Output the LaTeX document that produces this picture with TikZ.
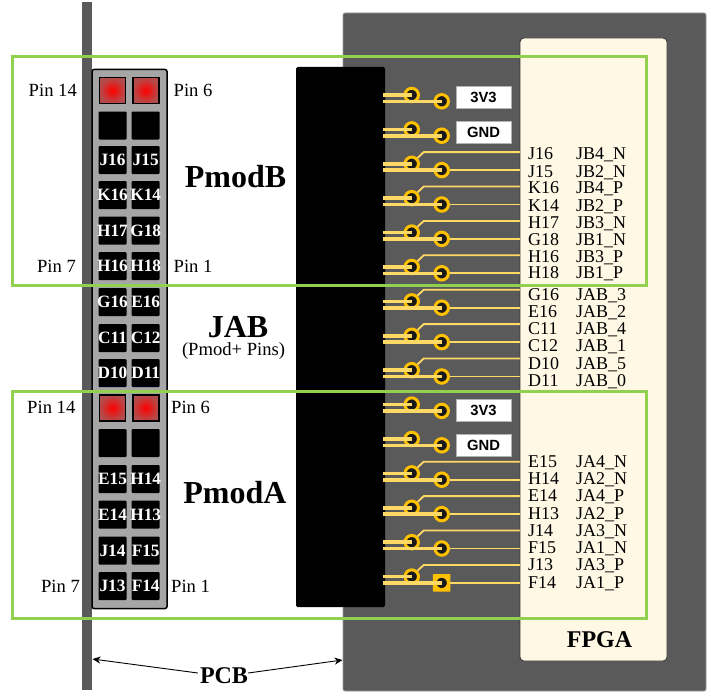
\documentclass[tikz,border=0pt]{standalone}
\usepackage{fontspec}
\usetikzlibrary{calc,arrows.meta}
\setmainfont{Liberation Serif}
\newfontfamily\padfont{Liberation Sans}
\definecolor{pcbgray}{HTML}{5A5A5A}
\definecolor{hdrgray}{HTML}{A6A6A6}
\definecolor{bandgreen}{HTML}{92D050}
\definecolor{fpgacream}{HTML}{FFF8E5}
\definecolor{viaorange}{HTML}{FFC000}
\definecolor{traceyellow}{HTML}{FFD966}
\tikzset{
	pinpad/.style={fill=black,rounded corners=1pt,minimum size=28pt,inner sep=0pt,text=white,font=\fontsize{17.3}{17.3}\selectfont\bfseries},
	redpad/.style={draw=black,line width=1.6pt,minimum size=26pt,inner sep=0pt,inner color=red,outer color=red!40!gray},
	via/.style={circle,draw=viaorange,fill=black!90,line width=3pt,minimum size=13.5pt,inner sep=0pt},
	viasq/.style={rectangle,rounded corners=0.5pt,fill=viaorange,minimum size=17.5pt,inner sep=0pt},
	thicktrace/.style={traceyellow,line width=3.6pt},
	thintrace/.style={traceyellow,line width=1.8pt},
	pinlabel/.style={inner sep=0pt,font=\fontsize{18.6}{18.6}\selectfont},
	fpgalabel/.style={inner sep=0pt,anchor=base west,font=\fontsize{18}{18}\selectfont},
	powerbox/.style={fill=white,draw=black!30,line width=0.5pt,minimum width=55pt,minimum height=22pt,inner sep=0pt,font=\fontsize{14.8}{15}\padfont\bfseries},
	bigtitle/.style={inner sep=0pt,font=\fontsize{32}{32}\selectfont\bfseries},
	greenband/.style={draw=bandgreen,line width=3pt}
}
\begin{document}
\begin{tikzpicture}[x=1pt,y=-1pt]
	\useasboundingbox (0,0) rectangle (707,693);

	%boards
	\fill[pcbgray] (82,2) rectangle (92,690); %left PCB edge
	\draw[black!40,fill=pcbgray,rounded corners=2pt,line width=0.6pt] (343,13) rectangle (706,691); %right PCB
	\draw[black!80,fill=fpgacream,rounded corners=4pt,line width=0.8pt] (520,38) rectangle (667,661); %FPGA die
	\draw[black,fill=hdrgray,rounded corners=2pt,line width=1.5pt] (92,69.5) rectangle (167,608.5); %header
	\fill[black,rounded corners=1.5pt] (296,67) rectangle (385,607); %connector body

	%header pads
	\foreach \ypos/\pa/\pb in {160/J16/J15,195/K16/K14,230.5/H17/G18,266/H16/H18,302/G16/E16,338/C11/C12,373/D10/D11,479/E15/H14,514.5/E14/H13,550.5/J14/F15,586/J13/F14}{
		\node[pinpad] (pad\pa) at (112.5,\ypos) {\makebox[0pt]{\pa}};
		\node[pinpad] (pad\pb) at (145.7,\ypos) {\makebox[0pt]{\pb}};
	}
	\foreach \ypos/\rowname in {125.5/b,443/a}{
		\node[pinpad] (blank\rowname l) at (112.5,\ypos) {};
		\node[pinpad] (blank\rowname r) at (145.7,\ypos) {};
	}
	\foreach \ypos/\rowname in {90.5/b,408/a}{
		\node[redpad] (red\rowname l) at (112.5,\ypos) {};
		\node[redpad] (red\rowname r) at (145.7,\ypos) {};
	}

	%pin labels
	\node[pinlabel,anchor=east] (pinbl) at (77,90) {Pin 14};
	\node[pinlabel,anchor=west] (pinbr) at (173.5,90) {Pin 6};
	\node[pinlabel,anchor=east] (pinbs) at (76,266) {Pin 7};
	\node[pinlabel,anchor=west] (pinbo) at (173.5,266) {Pin 1};
	\node[pinlabel,anchor=east] (pinal) at (75.5,407.5) {Pin 14};
	\node[pinlabel,anchor=west] (pinar) at (171,407.5) {Pin 6};
	\node[pinlabel,anchor=east] (pinas) at (80,586) {Pin 7};
	\node[pinlabel,anchor=west] (pinao) at (171,586) {Pin 1};

	%titles
	\node[bigtitle] (pmodb) at (235.5,177) {PmodB};
	\node[bigtitle] (jab) at (238,327.5) {JAB};
	\node[pinlabel] (jabsub) at (233.5,351.5) {(Pmod+ Pins)};
	\node[bigtitle] (pmoda) at (235,492.5) {PmodA};
	\node[inner sep=0pt,font=\fontsize{24}{24}\selectfont\bfseries] (fpga) at (599.5,640) {FPGA};
	\node[inner sep=0pt,font=\fontsize{24}{24}\selectfont\bfseries] (pcb) at (224,676) {PCB};

	%vias and traces
	\coordinate (dieedge) at (520,0);
	\node[viasq] (losq) at (441.7,582.9) {}; %pin 1 marker
	\foreach \k in {0,...,14}{
		\pgfmathsetmacro{\yu}{95+34.4*\k}
		\pgfmathsetmacro{\yl}{101.3+34.4*\k}
		\node[via] (up\k) at (411.7,\yu) {};
		\node[via] (lo\k) at (441.7,\yl) {};
		\coordinate (upin\k) at (383,\yu);
		\coordinate (lpin\k) at (383,\yl);
		\draw[thicktrace] (upin\k) -- (up\k.center);
		\draw[thicktrace] (lpin\k) -- (lo\k.center);
	}

	%traces to the FPGA
	\foreach \k in {2,...,8,11,12,13,14}{
		\coordinate (bend\k) at ($(up\k)+(12,-11.7)$);
		\coordinate (dieu\k) at (bend\k -| dieedge);
		\coordinate (diel\k) at (lo\k -| dieedge);
		\draw[thintrace] (up\k.north east) -- (bend\k) -- (dieu\k);
		\draw[thintrace] (lo\k.east) -- (diel\k);
	}

	%power boxes
	\node[powerbox] (vb) at (483.5,97) {3V3};
	\node[powerbox] (gb) at (483.5,132) {GND};
	\node[powerbox] (va) at (483.5,410.5) {3V3};
	\node[powerbox] (ga) at (483.5,445) {GND};

	%FPGA pin names
	\foreach \ypos/\pa/\pb in {159.5/J16/JB4\_N,177/J15/JB2\_N,193.5/K16/JB4\_P,211.5/K14/JB2\_P,228.5/H17/JB3\_N,245.5/G18/JB1\_N,262/H16/JB3\_P,278.5/H18/JB1\_P,300.5/G16/JAB\_3,317.5/E16/JAB\_2,334.5/C11/JAB\_4,351.5/C12/JAB\_1,369.5/D10/JAB\_5,386.5/D11/JAB\_0,467.5/E15/JA4\_N,484.5/H14/JA2\_N,501.5/E14/JA4\_P,519.5/H13/JA2\_P,536.5/J14/JA3\_N,553.5/F15/JA1\_N,570.5/J13/JA3\_P,588.5/F14/JA1\_P}{
		\node[fpgalabel] at (528,\ypos) {\pa};
		\node[fpgalabel] at (576,\ypos) {\pb};
	}

	%green bands
	\draw[greenband] (12.5,57) rectangle (646,285);
	\draw[greenband] (12.5,391.5) rectangle (646,618);

	%arrows
	\coordinate (pcbl) at (92.5,659);
	\coordinate (pcbr) at (342.5,660);
	\draw[-{Stealth[length=8pt,width=7pt]},line width=0.9pt] (pcb.west) ++(-2,-3) -- (pcbl);
	\draw[-{Stealth[length=8pt,width=7pt]},line width=0.9pt] (pcb.east) ++(0,-3) -- (pcbr);
\end{tikzpicture}
\end{document}
